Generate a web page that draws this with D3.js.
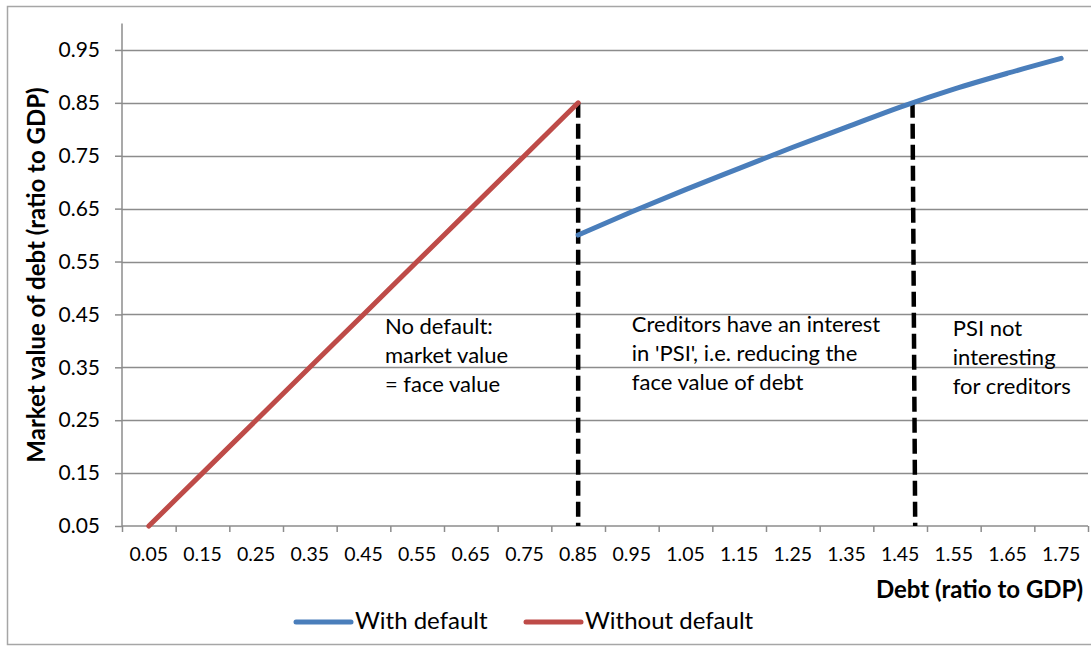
<!DOCTYPE html>
<html><head><meta charset="utf-8">
<script src="https://cdn.jsdelivr.net/npm/d3@7"></script>
<style>
body{margin:0;background:#fff;}
text{font-family:Lato,"Open Sans",sans-serif;fill:#000;}
</style></head>
<body><svg id="c" width="1091" height="646"></svg>
<script>
// ---- data ----
const xTickLabels = [0.05,0.15,0.25,0.35,0.45,0.55,0.65,0.75,0.85,0.95,1.05,1.15,1.25,1.35,1.45,1.55,1.65,1.75];
const xTickMarks = [0,0.1,0.2,0.3,0.4,0.5,0.6,0.7,0.8,0.9,1.0,1.1,1.2,1.3,1.4,1.5,1.6,1.7,1.8];
const yTickLabels = [0.05,0.15,0.25,0.35,0.45,0.55,0.65,0.75,0.85,0.95];
const withoutDebt = [0.05,0.15,0.25,0.35,0.45,0.55,0.65,0.75,0.85];
const withoutValue = [0.05,0.15,0.25,0.35,0.45,0.55,0.65,0.75,0.85];
const withDebt = [0.85,0.95,1.05,1.15,1.25,1.35,1.45,1.55,1.65,1.75];
const withValue = [0.600,0.644,0.686,0.726,0.766,0.804,0.842,0.876,0.906,0.934];
const seriesNames = ["With default","Without default"];
const seriesColors = ["#4a7ebb","#be4b48"];
const dashDebt = [0.85,1.473];
const dashDebtBottom = [0.85,1.478];
const dashTop = [0.85,0.85];
const noteDebt = [0.49,0.95,1.548];
const noteValue = [0.413,0.416,0.409];
const noteLines = [
  ["No default:","market value","= face value"],
  ["Creditors have an interest","in 'PSI', i.e. reducing the","face value of debt"],
  ["PSI not","interesting","for creditors"]
];

const svg = d3.select("#c");
const x = d3.scaleLinear().domain([0,1.8]).range([122,1088]);
const y = d3.scaleLinear().domain([0.05,1.0]).range([526,23.5]);

// border
svg.append("rect").attr("x",7.5).attr("y",6.5).attr("width",1095).attr("height",638)
  .attr("fill","none").attr("stroke","#a6a6a6").attr("stroke-width",1.5);

// gridlines
svg.append("g").selectAll("line").data(yTickLabels.slice(1)).join("line")
  .attr("x1",x(0)).attr("x2",x(1.8)).attr("y1",d=>Math.round(y(d))+0.5).attr("y2",d=>Math.round(y(d))+0.5)
  .attr("stroke","#8c8c8c").attr("stroke-width",1.5);

// y axis
const ya = svg.append("g").attr("transform",`translate(${x(0)},0)`)
  .call(d3.axisLeft(y).tickValues(yTickLabels).tickSize(7).tickPadding(15).tickFormat(d3.format(".2f")));
ya.select(".domain").attr("d",`M0,${y(1.0)}V${y(0.05)}`);
ya.selectAll("path,line").attr("stroke","#8c8c8c").attr("stroke-width",1.5);
ya.selectAll("text").attr("font-size",21).attr("fill","#000").attr("font-family","Lato");

// x axis
const xa = svg.append("g").attr("transform",`translate(0,${y(0.05)})`)
  .call(d3.axisBottom(x).tickValues(xTickMarks).tickSize(6).tickFormat(""));
xa.selectAll("path,line").attr("stroke","#8c8c8c").attr("stroke-width",1.5);
xa.select(".domain").attr("d",`M${x(0)},0H${x(1.8)}`);
svg.append("g").selectAll("text").data(xTickLabels).join("text")
  .attr("x",d=>x(d)).attr("y",y(0.05)+35).attr("text-anchor","middle").attr("font-size",19.5)
  .text(d3.format(".2f"));

// dashed lines
svg.append("g").selectAll("line").data(dashDebt).join("line")
  .attr("x1",d=>x(d)).attr("x2",(d,i)=>x(dashDebtBottom[i]))
  .attr("y1",(d,i)=>y(dashTop[i])).attr("y2",y(0.05))
  .attr("stroke","#000").attr("stroke-width",4.5).attr("stroke-dasharray","15,6");

// series
const line = d3.line().x(d=>x(d[0])).y(d=>y(d[1])).curve(d3.curveMonotoneX);
svg.append("path").datum(withoutDebt.map((d,i)=>[d,withoutValue[i]]))
  .attr("d",line).attr("fill","none").attr("stroke",seriesColors[1]).attr("stroke-width",5).attr("stroke-linecap","round");
svg.append("path").datum(withDebt.map((d,i)=>[d,withValue[i]]))
  .attr("d",line).attr("fill","none").attr("stroke",seriesColors[0]).attr("stroke-width",5).attr("stroke-linecap","round");

// annotations
noteLines.forEach((lines,k)=>{
  const t = svg.append("text").attr("x",x(noteDebt[k])).attr("y",y(noteValue[k])).attr("font-size",22);
  lines.forEach((l,i)=>t.append("tspan").attr("x",x(noteDebt[k])).attr("dy",i?29:0).text(l));
});

// axis titles
svg.append("text").attr("x",1083).attr("y",598).attr("text-anchor","end")
  .attr("font-size",24).attr("font-weight","bold").text("Debt (ratio to GDP)");
svg.append("text").attr("transform","translate(45,275) rotate(-90)").attr("text-anchor","middle")
  .attr("font-size",24).attr("font-weight","bold").text("Market value of debt (ratio to GDP)");

// legend
const legX = [296,526];
const lg = svg.append("g").selectAll("g").data(seriesNames).join("g")
  .attr("transform",(d,i)=>`translate(${legX[i]},622)`);
lg.append("line").attr("x1",0).attr("x2",55).attr("stroke",(d,i)=>seriesColors[i]).attr("stroke-width",5).attr("stroke-linecap","round");
lg.append("text").attr("x",59).attr("y",7).attr("font-size",24).text(d=>d);
</script></body></html>
